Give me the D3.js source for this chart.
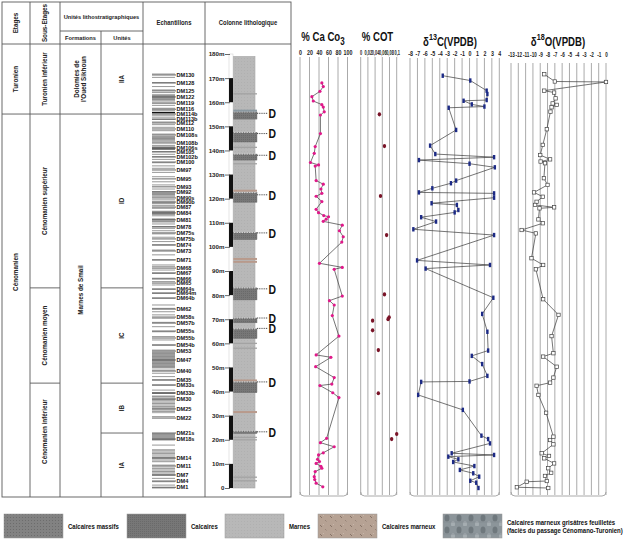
<!DOCTYPE html>
<html>
<head>
<meta charset="utf-8">
<script src="https://cdn.jsdelivr.net/npm/d3@7"></script>
<style>
body { margin: 0; background: #fff; }
svg { display: block; font-family: "Liberation Sans", Arial, sans-serif; }
.narrow { font-family: "Liberation Sans Narrow", "Liberation Sans", Arial, sans-serif; font-weight: bold; }
</style>
</head>
<body>
<svg id="chart" width="623" height="541"></svg>
<script>
/* DATA */
var depthTicks = [0, 10, 20, 30, 40, 50, 60, 70, 80, 90, 100, 110, 120, 130, 140, 150, 160, 170, 180];
var blackBars = [[0, 10], [20, 30], [40, 50], [60, 70], [80, 90], [100, 110], [120, 130], [140, 150], [160, 170]];

var etages = ['Turonien', 'Cénomanien'];
var etageLimits = [155.1];
var sousEtages = ['Turonien inférieur', 'Cénomanien supérieur', 'Cénomanien moyen', 'Cénomanien inférieur'];
var sousEtageLimits = [155.1, 83, 43.5];
var formations = [["Dolomies de", "l'Oued Sikhoun"], ['Marnes de Smail']];
var formationLimits = [155.1];
var unites = ['IIA', 'ID', 'IC', 'IB', 'IA'];
var uniteLimits = [155.1, 83, 43.5, 22.8];

var sampleNames = ['DM130','DM128','DM125','DM122','DM119','DM116','DM114b','DM113b','DM112','DM110','DM108s','DM108b','DM106s','DM105','DM102b','DM100','DM97','DM95','DM93','DM92','DM90s','DM90b','DM87','DM84','DM81','DM78','DM75s','DM75b','DM74','DM73','DM71','DM68','DM67','DM66','DM65','DM64s','DM64m','DM64b','DM62','DM58s','DM57b','DM55s','DM55b','DM54b','DM53','DM47','DM40','DM35','DM33s','DM33b','DM30','DM25','DM22','DM21s','DM18s','DM14','DM11','DM7','DM4','DM1'];
var sampleDepths = [171.3,168,164.7,162.2,159.6,157.1,155.1,153,151.4,148.9,146.4,143.1,141,139.4,137.3,135.2,131.9,128.2,124.9,122.8,120.3,118.6,116.5,114.1,111.2,108.3,105.8,103.3,100.8,98.3,94.6,91.2,89.2,86.7,85,82.5,80.9,78.8,74.2,70.9,68.4,65.1,62.2,59.3,56.8,53.1,48.5,44.8,42.7,39.4,36.9,32.8,29,22.8,20.3,12.4,9.1,5.4,2.9,0.3];
var extraLines = [171.7,170.3,168.1,166.5,165.1,164,163,162,161.2,160.1,158.7,157.5,156.5,154.6,153.8,152.9,151.8,150.7,149.6,148.2,146.8,145,143.6,142.1,141.3,140.5,139.5,138.4,137.4,136.3,134.9,133.6,132.6,130.9,129.1,127,125.7,124,122.9,121.9,120.8,119.5,118.1,117.1,116,114.6,113.9,112.9,111.4,110.5,109.5,108.4,107.7,106.7,105.4,104,102.2,100.8,98.7,96.7,94.6,92.5,91.8,90.4,89,87,85.6,84.2,82.5,80.7,78.7,75.9,74.5,73.1,71.8,70.4,68.7,66.9,64.8,62.8,61.4,59.3,57.2,55.9,54.5,53.1,51.7,50.3,48.9,47.6,46.2,44.8,42.7,40.6,39.3,37.9,36.5,35.1,33.7,31.6,29.6,22.4,19.9,17.8,15.8,14.4,12.6,10.9,9.5,8.2,6.8,5.4,4,2.6,1.2,0];
var sampleBands = [[163.2,160.6,'mid'],[156,155.4,'black'],[146,144,'mid'],[141.6,140.2,'dark'],[122.6,121.2,'mid'],[119,117.6,'light'],[115,113.2,'mid'],[112,110,'light'],[56.5,49.6,'mid'],[39.7,39,'dark'],[38.5,31,'light'],[22.6,19.9,'mid'],[16,11,'light'],[8.5,5,'light']];

var columnTop = 179;
var limestoneBeds = [[156,153],[147.5,143.5],[138.5,136],[122.5,118.5],[106,103],[83,78],[70.5,68.5],[66,62],[44,39.5],[23.6,22.6]];
var dMarks = [155.4,147,138,121.6,105.8,82.6,70.5,66.2,44,23.3];
var marlyStripes = [123.3,95,93.8,44.6,31.5];
var thinBeds = [163.5,141.3,134.5,60,58,21,20,4.5,3];
var shaleStripes = [156.5];

var caDepth = [168,166.5,164.5,162.3,160.5,159,158,156,154.7,147,141.6,138.8,135,134,133.5,127.5,126,124,122.2,121,118.8,115.6,114.2,113,112.5,111.5,110.6,109,106.7,104.2,102,93.2,91.5,90.7,79.6,77.7,75.9,71.5,63,55.2,54.2,50.3,45.8,43.1,42.5,39.5,37.5,20.6,18.8,17.1,14.6,13.7,11.9,11,10.2,9,8.2,6.8,4.7,3.5,2,0.5];
var caValue = [46,49,42,25,28,46,49,51,43,43,32,30,22,39,32,34,49,44,46,34,46,34,39,50,60,55,49,89,83,91,88,41,89,72,89,62,72,68,82,34,65,33,72,67,42,69,82,56,43,72,49,39,37,41,34,44,46,32,30,31,34,48];
var caTicks = [0, 20, 40, 60, 80, 100];

var cotDepth = [155,141.8,121.1,104.9,80.3,70.8,70,69.4,65.4,57.2,39.3,22.4,20.3];
var cotValue = [0.052,0.066,0.055,0.072,0.066,0.079,0.076,0.033,0.033,0.049,0.049,0.1,0.086];
var cotTicks = [0, 0.02, 0.04, 0.06, 0.08, 0.1];

var c13Depth = [171,169,164.8,163.4,160.9,160.6,159.1,158.2,157.7,148.5,142,138.5,137.2,136,134.5,133,127.5,126.4,124.3,122.6,122.2,120.4,118.1,117.4,115.3,114.3,112.3,110.5,107.3,104.9,94.4,92.5,91,78.9,72.2,64.8,57,54.8,51.4,46.5,44.2,44,38.6,32.4,21.7,20.3,18.5,14.4,13.7,13,11.9,10.8,9.1,7.5,6.1,4.7,3,2.2,0];
var c13Value = [-3.6,0.1,2.3,2.4,2.3,-0.8,0.3,2.0,-2.8,-1.8,-5.3,-4.6,3.3,-6.8,0,3.4,-1.8,-2.5,-5,-6.8,3.3,3.3,-5.1,-1.7,-1.5,-2.0,-6.5,-4.5,-7.55,3.3,-7.05,2.75,-5.9,3.2,1.7,2.4,2.5,0.3,1.7,2.4,0,-6.5,-6.9,-0.9,1.6,2.5,2.75,-2.4,3.3,-2.85,-1.5,-2.2,0.65,-1.3,0.5,1.3,0.1,0.9,1.2];
var c13Ticks = [-8,-7,-6,-5,-4,-3,-2,-1,0,1,2,3,4];

var o18Depth = [171.6,168.6,168.4,164.8,164,161.6,159.5,158.9,157.9,156.1,148.8,142.3,138.1,136.3,135.4,134.7,128.5,125.7,122.6,120.8,118.7,117.4,116.4,116,111.4,109.8,107,105.6,95.3,92.5,90.7,78.3,71.8,63,55.9,54.5,50.3,45.8,43.7,42.4,38.6,31.2,21.3,19.9,18.1,14.4,13.3,12.3,10.2,8.2,6.3,5,2.9,2.6,0.3,0];
var o18Value = [-8.45,-7.0,0,-8.45,-7.1,-6.9,-7.3,-6.75,-7.45,-7.6,-8.1,-8.65,-9.0,-7.65,-8.95,-8.35,-8.5,-8.0,-9.85,-8.65,-9.5,-9.7,-7.1,-9.1,-9.25,-8.65,-11.55,-9.6,-10.2,-8.6,-9.6,-8.6,-6.5,-7.45,-7.2,-8.6,-6.75,-7.2,-7.65,-9.5,-9.25,-8.2,-7.2,-7.65,-7.2,-8.8,-7.8,-8.45,-7.1,-7.9,-7.5,-8.35,-8.1,-10.85,-12.2,-7.9];
var o18Ticks = [-13,-12,-11,-10,-9,-8,-7,-6,-5,-4,-3,-2,-1,0];

var legendLabels = [['Calcaires massifs'], ['Calcaires'], ['Marnes'], ['Calcaires marneux'], ['Calcaires marneux grisâtres feuilletés', '(faciès du passage Cénomano-Turonien)']];

/* SCALES */
var svg = d3.select('#chart');
var y = d3.scaleLinear().domain([0, 180]).range([488, 54]);
var tableTop = 44, tableBottom = 497;
var squeeze = 'scale(0.78,1)';

/* PATTERNS */
var defs = svg.append('defs');
function pattern(id, base, w, h, marks) {
    var p = defs.append('pattern').attr('id', id).attr('patternUnits', 'userSpaceOnUse')
        .attr('width', w).attr('height', h);
    p.append('rect').attr('width', w).attr('height', h).style('fill', base);
    marks(p);
}
pattern('pMassif', '#828282', 3, 3, function(p) {
    p.append('rect').attr('x', 0).attr('y', 0).attr('width', 1).attr('height', 1).style('fill', '#6c6c6c');
});
pattern('pCalc', '#777777', 2, 2, function(p) {
    p.append('rect').attr('x', 1).attr('y', 1).attr('width', 1).attr('height', 1).style('fill', '#6a6a6a');
});
pattern('pMarne', '#b8b8b8', 3, 3, function(p) {
    p.append('rect').attr('x', 1).attr('y', 1).attr('width', 1).attr('height', 1).style('fill', '#b0b0b0');
});
pattern('pMarneux', '#b6a294', 10, 9, function(p) {
    p.append('line').attr('x1', 2).attr('y1', 2).attr('x2', 4).attr('y2', 4).style('stroke', '#7a675c').style('stroke-width', 0.8);
    p.append('line').attr('x1', 7).attr('y1', 6).attr('x2', 8.5).attr('y2', 7.5).style('stroke', '#8a776c').style('stroke-width', 0.7);
    p.append('rect').attr('x', 5).attr('y', 1).attr('width', 1).attr('height', 1).style('fill', '#c7b6aa');
});
pattern('pFeuil', '#8c959a', 12, 12, function(p) {
    p.append('ellipse').attr('cx', 4).attr('cy', 4).attr('rx', 2.5).attr('ry', 3.5).style('fill', '#6f787d');
    p.append('ellipse').attr('cx', 10).attr('cy', 10).attr('rx', 2).attr('ry', 3).style('fill', '#a5adb1');
    p.append('line').attr('x1', 0).attr('y1', 8).attr('x2', 12).attr('y2', 8).style('stroke', '#7d868b').style('stroke-width', 0.6);
});

/* TABLE */
var tbl = svg.append('g');
var lineColor = '#5a5a5a';
function hline(x1, x2, yy) {
    tbl.append('line').attr('x1', x1).attr('x2', x2).attr('y1', yy).attr('y2', yy)
        .style('stroke', lineColor).style('stroke-width', 0.9);
}
function vline(xx, y1, y2) {
    tbl.append('line').attr('x1', xx).attr('x2', xx).attr('y1', y1).attr('y2', y2)
        .style('stroke', lineColor).style('stroke-width', 0.9);
}
tbl.append('rect').attr('x', 2).attr('y', 2).attr('width', 289).attr('height', tableBottom - 2)
    .style('fill', 'none').style('stroke', lineColor).style('stroke-width', 0.9);
[30, 60, 143, 205].forEach(function(xx) { vline(xx, 2, tableBottom); });
vline(101, 31, tableBottom);
hline(2, 291, tableTop);
hline(60, 143, 31);

function htext(txt, xx, yy, size) {
    tbl.append('text').attr('transform', 'translate(' + xx + ',' + yy + ') scale(0.92,1)').attr('text-anchor', 'middle')
        .style('font-size', size + 'px').style('font-weight', 'bold').style('fill', '#222').text(txt);
}
function vtext(lines, xx, yy, size) {
    var t = tbl.append('text').attr('transform', 'translate(' + xx + ',' + yy + ') rotate(-90)')
        .attr('text-anchor', 'middle').style('font-size', size + 'px').style('font-weight', 'bold').style('fill', '#222');
    lines.forEach(function(l, i) {
        t.append('tspan').attr('x', 0).attr('dy', i === 0 ? (-(lines.length - 1) * 0.55 + 0.35) + 'em' : '1.1em').text(l);
    });
}
vtext(['Etages'], 16, 23, 6.3);
vtext(['Sous-Etages'], 45, 23, 6.3);
htext('Unités lithostratigraphiques', 101.5, 19, 6.2);
htext('Formations', 80.5, 40, 6.2);
htext('Unités', 122, 40, 6.2);
htext('Echantillons', 174, 25, 6.4);
htext('Colonne lithologique', 248, 25, 6.4);

function rows(names, limits, x1, x2, cx, labelBottom) {
    var bounds = [tableTop].concat(limits.map(function(d) { return y(d); })).concat([labelBottom]);
    limits.forEach(function(d) { hline(x1, x2, y(d)); });
    names.forEach(function(n, i) {
        var lines = typeof n === 'string' ? [n] : n;
        vtext(lines, cx, (bounds[i] + bounds[i + 1]) / 2, 6.3);
    });
}
rows(etages, etageLimits, 2, 30, 16, 430);
rows(sousEtages, sousEtageLimits, 30, 60, 45, 480);
rows(formations, formationLimits, 60, 101, 80.5, 466);
rows(unites, uniteLimits, 101, 143, 122, tableBottom);

/* SAMPLES */
var bandColor = { black: '#111', dark: '#666', mid: '#9c9c9c', light: '#c4c4c4' };
svg.append('g').selectAll('rect').data(sampleBands).enter().append('rect')
    .attr('x', 152).attr('width', 23)
    .attr('y', function(d) { return y(d[0]); })
    .attr('height', function(d) { return y(d[1]) - y(d[0]); })
    .style('fill', function(d) { return bandColor[d[2]]; });
svg.append('g').selectAll('line').data(extraLines).enter().append('line')
    .attr('x1', 152).attr('x2', 175)
    .attr('y1', function(d) { return y(d); }).attr('y2', function(d) { return y(d); })
    .style('stroke', '#8c8c8c').style('stroke-width', 0.9);
var samp = svg.append('g').selectAll('g').data(sampleNames).enter().append('g');
samp.append('line')
    .attr('x1', 152).attr('x2', 176)
    .attr('y1', function(d, i) { return y(sampleDepths[i]); }).attr('y2', function(d, i) { return y(sampleDepths[i]); })
    .style('stroke', '#555').style('stroke-width', 0.9);
samp.append('text')
    .attr('transform', function(d, i) { return 'translate(176.5,' + y(sampleDepths[i]) + ') scale(0.9,1)'; })
    .attr('dy', '0.35em')
    .style('font-size', '6.2px').style('font-weight', 'bold').style('fill', '#111')
    .text(function(d) { return d; });

/* LITHOLOGIC COLUMN */
var col = svg.append('g');
col.append('rect').attr('x', 233).attr('width', 22)
    .attr('y', y(columnTop)).attr('height', y(0) - y(columnTop))
    .style('fill', 'url(#pMarne)').style('stroke', '#a8a8a8').style('stroke-width', 0.6);
col.selectAll('rect.thin').data(thinBeds).enter().append('rect').attr('class', 'thin')
    .attr('x', 233).attr('width', 24)
    .attr('y', function(d) { return y(d) - 0.6; }).attr('height', 1.3)
    .style('fill', '#a3a3a3');
col.selectAll('rect.marly').data(marlyStripes).enter().append('rect').attr('class', 'marly')
    .attr('x', 233).attr('width', 24)
    .attr('y', function(d) { return y(d) - 1; }).attr('height', 2)
    .style('fill', '#b89a8c');
col.selectAll('rect.bed').data(limestoneBeds).enter().append('rect').attr('class', 'bed')
    .attr('x', 233).attr('width', 24)
    .attr('y', function(d) { return y(d[0]); })
    .attr('height', function(d) { return y(d[1]) - y(d[0]); })
    .style('fill', 'url(#pCalc)').style('stroke', '#6a6a6a').style('stroke-width', 0.4);
col.selectAll('line.bedtop').data(limestoneBeds).enter().append('line').attr('class', 'bedtop')
    .attr('x1', 234).attr('x2', 256)
    .attr('y1', function(d) { return y(d[0]); }).attr('y2', function(d) { return y(d[0]); })
    .style('stroke', '#eee').style('stroke-width', 0.8).style('stroke-dasharray', '1.5,1');
col.selectAll('rect.shale').data(shaleStripes).enter().append('rect').attr('class', 'shale')
    .attr('x', 233).attr('width', 24)
    .attr('y', function(d) { return y(d) - 1; }).attr('height', 2)
    .style('fill', '#8a98a0');
var dm = col.selectAll('g.dm').data(dMarks).enter().append('g').attr('class', 'dm');
dm.append('line').attr('x1', 257).attr('x2', 268)
    .attr('y1', function(d) { return y(d); }).attr('y2', function(d) { return y(d); })
    .style('stroke', '#333').style('stroke-width', 0.9).style('stroke-dasharray', '1,0.8');
dm.append('text').attr('class', 'narrow')
    .attr('transform', function(d) { return 'translate(268.5,' + y(d) + ') scale(0.8,1.05)'; })
    .attr('dy', '0.36em')
    .style('font-size', '13px').style('fill', '#111').text('D');

// depth scale
col.append('rect').attr('x', 229).attr('width', 4).attr('y', y(180)).attr('height', y(0) - y(180))
    .style('fill', '#fff').style('stroke', '#ccc').style('stroke-width', 0.5);
col.selectAll('rect.bar').data(blackBars).enter().append('rect').attr('class', 'bar')
    .attr('x', 229).attr('width', 4)
    .attr('y', function(d) { return y(d[1]); })
    .attr('height', function(d) { return y(d[0]) - y(d[1]); })
    .style('fill', '#111');
var depthAxis = col.append('g').attr('transform', 'translate(230,0)')
    .call(d3.axisLeft(y).tickValues(depthTicks).tickSize(5).tickPadding(0.5)
        .tickFormat(function(d) { return d === 0 ? '0' : d + 'm'; }));
depthAxis.select('.domain').remove();
depthAxis.selectAll('line').style('stroke', '#444').style('stroke-width', 0.8);
depthAxis.selectAll('text').style('font-size', '6.2px').style('font-weight', 'bold')
    .style('font-family', '"Liberation Sans", Arial, sans-serif').style('fill', '#222');

/* PANELS */
function panel(x, ticks, fmt, gridTop, labelY) {
    var g = svg.append('g');
    g.selectAll('line.grid').data(ticks).enter().append('line').attr('class', 'grid')
        .attr('x1', function(d) { return x(d); }).attr('x2', function(d) { return x(d); })
        .attr('y1', gridTop).attr('y2', 495)
        .style('stroke', '#a0a0a0').style('stroke-width', 0.9);
    var x0 = x(ticks[0]), x1 = x(ticks[ticks.length - 1]);
    g.append('path')
        .attr('d', 'M' + x0 + ',492 Q' + x0 + ',496 ' + (x0 + 4) + ',496 L' + (x1 - 4) + ',496 Q' + x1 + ',496 ' + x1 + ',492')
        .style('fill', 'none').style('stroke', '#a0a0a0').style('stroke-width', 0.9);
    var ax = g.append('g').attr('transform', 'translate(0,' + labelY + ')')
        .call(d3.axisTop(x).tickValues(ticks).tickSize(0).tickPadding(0).tickFormat(fmt));
    ax.select('.domain').remove();
    ax.selectAll('text').attr('class', 'narrow').attr('transform', squeeze)
        .style('font-size', '6.8px').style('fill', '#222');
    return g;
}
function title(xx, yy, parts) {
    var t = svg.append('text').attr('class', 'narrow')
        .attr('transform', 'translate(' + xx + ',' + yy + ') scale(0.8,1.05)')
        .attr('text-anchor', 'middle').style('font-size', '12px').style('fill', '#111');
    parts.forEach(function(p) {
        t.append('tspan').attr('dy', p[1]).style('font-size', p[2] + 'px').text(p[0]);
    });
}
var lineGen = function(x, depths) {
    return d3.line().x(function(d) { return x(d); }).y(function(d, i) { return y(depths[i]); });
};

// CaCO3
var xCa = d3.scaleLinear().domain([0, 100]).range([300, 347.5]);
var gCa = panel(xCa, caTicks, function(d) { return d; }, 57, 55);
title(323, 41, [['% Ca Co', 0, 12], ['3', 4, 10]]);
gCa.append('path').datum(caValue).attr('d', lineGen(xCa, caDepth))
    .style('fill', 'none').style('stroke', '#3a3a3a').style('stroke-width', 0.7);
gCa.selectAll('circle').data(caValue).enter().append('circle')
    .attr('cx', function(d) { return xCa(d); }).attr('cy', function(d, i) { return y(caDepth[i]); })
    .attr('r', 1.6).style('fill', '#e0198a');

// COT
var xCot = d3.scaleLinear().domain([0, 0.1]).range([360.7, 396.7]);
var gCot = panel(xCot, cotTicks, function(d) { return d === 0 ? '0' : String(d).replace('.', ','); }, 57, 55);
gCot.selectAll('text').attr('transform', 'scale(0.62,1)').style('font-size', '6.4px');
title(377.5, 41, [['% COT', 0, 12]]);
gCot.selectAll('ellipse').data(cotValue).enter().append('ellipse')
    .attr('cx', function(d) { return xCot(d); }).attr('cy', function(d, i) { return y(cotDepth[i]); })
    .attr('rx', 1.7).attr('ry', 2.1).style('fill', '#7a1428');

// d13C
var xC13 = d3.scaleLinear().domain([-8, 4]).range([410, 499.3]);
var gC13 = panel(xC13, c13Ticks, function(d) { return d; }, 58, 56);
title(450, 46, [['δ', 0, 12], ['13', -6, 9], ['C(VPDB)', 6, 12]]);
gC13.append('path').datum(c13Value).attr('d', lineGen(xC13, c13Depth))
    .style('fill', 'none').style('stroke', '#3a3a3a').style('stroke-width', 0.7);
gC13.selectAll('rect.pt').data(c13Value).enter().append('rect').attr('class', 'pt')
    .attr('x', function(d) { return xC13(d) - 1.2; }).attr('y', function(d, i) { return y(c13Depth[i]) - 2.2; })
    .attr('width', 2.4).attr('height', 4.4).style('fill', '#1c2a86');

// d18O
var xO18 = d3.scaleLinear().domain([-13, 0]).range([511, 606]);
var gO18 = panel(xO18, o18Ticks, function(d) { return d; }, 63, 57);
gO18.selectAll('text').attr('transform', 'scale(0.68,1)');
title(558, 46, [['δ', 0, 12], ['18', -6, 9], ['O(VPDB)', 6, 12]]);
gO18.append('path').datum(o18Value).attr('d', lineGen(xO18, o18Depth))
    .style('fill', 'none').style('stroke', '#3a3a3a').style('stroke-width', 0.7);
gO18.selectAll('rect.pt').data(o18Value).enter().append('rect').attr('class', 'pt')
    .attr('x', function(d) { return xO18(d) - 1.7; }).attr('y', function(d, i) { return y(o18Depth[i]) - 1.7; })
    .attr('width', 3.4).attr('height', 3.4)
    .style('fill', '#fff').style('stroke', '#444').style('stroke-width', 0.7);

/* LEGEND */
var legendFill = ['url(#pMassif)', 'url(#pCalc)', 'url(#pMarne)', 'url(#pMarneux)', 'url(#pFeuil)'];
var legendX = [4, 127, 225, 318, 443];
var leg = svg.append('g').selectAll('g').data(legendLabels).enter().append('g')
    .attr('transform', function(d, i) { return 'translate(' + legendX[i] + ',514)'; });
leg.append('rect').attr('width', 59).attr('height', 24)
    .style('fill', function(d, i) { return legendFill[i]; })
    .style('stroke', '#999').style('stroke-width', 0.5);
leg.append('text')
    .attr('transform', function(d) { return 'translate(64,' + (d.length > 1 ? 10.5 : 14.5) + ') scale(0.86,1)'; })
    .style('font-size', '7px').style('font-weight', 'bold').style('fill', '#111')
    .each(function(d) {
        var t = d3.select(this);
        d.forEach(function(l, i) {
            t.append('tspan').attr('x', 0).attr('dy', i === 0 ? 0 : '1.25em').text(l);
        });
    });
</script>
</body>
</html>
